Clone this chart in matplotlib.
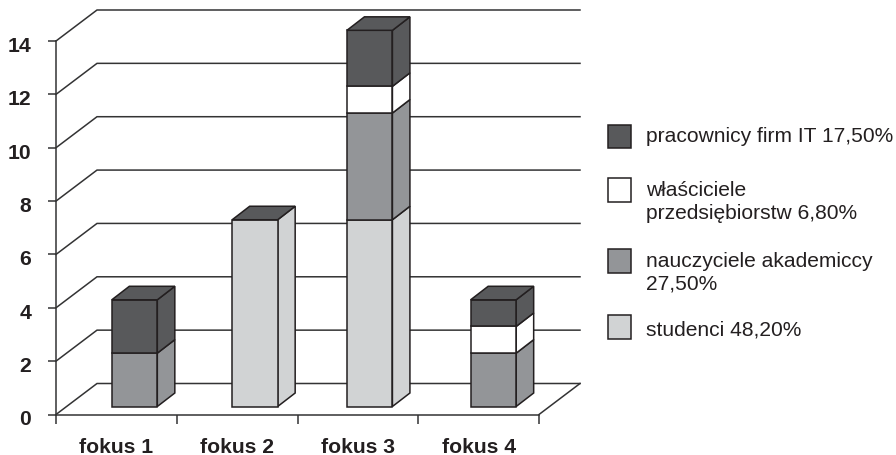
#!/usr/bin/env python3
"""Stacked pseudo-3D bars: focus group participants by professional group."""

import matplotlib
matplotlib.use("Agg")
import matplotlib.pyplot as plt
from matplotlib.patches import Polygon, Rectangle
from matplotlib.transforms import ScaledTranslation
import numpy as np

plt.rcParams['font.family'] = ['Liberation Sans', 'DejaVu Sans']

categories = ['fokus 1', 'fokus 2', 'fokus 3', 'fokus 4']
y_ticks = [0, 2, 4, 6, 8, 10, 12, 14]

studenci = [0, 7, 7, 0]
nauczyciele = [2, 0, 4, 2]
wlasciciele = [0, 0, 1, 1]
pracownicy = [2, 0, 2.1, 1]

legend_labels = ['pracownicy firm IT 17,50%',
                 'właściciele\nprzedsiębiorstw 6,80%',
                 'nauczyciele akademiccy\n27,50%',
                 'studenci 48,20%']

DARK = '#58595b'
MID = '#939598'
LIGHT = '#d1d3d4'
WHITE = '#ffffff'
EDGE = '#231f20'
WALL = '#333334'

W, H = 896, 456
# front plane of the plot box, in pixels
LEFT, RIGHT, BOTTOM, TOP = 56, 539, 415.5, 42
PX_X = (RIGHT - LEFT) / 4
PX_Y = (BOTTOM - TOP) / 14

# depth of the box and of the bars, converted to data units
wall_dx, wall_dy = 41 / PX_X, 31 / PX_Y
bar_dx, bar_dy = 17.5 / PX_X, 13.5 / PX_Y
bar_lift = 8 / PX_Y
bar_width = 45.5 / PX_X
# the bars do not sit at equal distances from the tick centres
bar_shift = np.array([18.2, 17.8, 11.8, 14.8]) / PX_X

fig = plt.figure(figsize=(W / 100, H / 100), dpi=100, facecolor='white')
ax = fig.add_axes([LEFT / W, 1 - BOTTOM / H, (RIGHT - LEFT) / W, (BOTTOM - TOP) / H])
ax.set_xlim(0.5, 4.5)
ax.set_ylim(0, 14)
ax.patch.set_visible(False)

for side in ['top', 'right']:
    ax.spines[side].set_visible(False)
for side in ['left', 'bottom']:
    ax.spines[side].set_linewidth(1.1)
    ax.spines[side].set_color(WALL)

# back wall lines and the floor edge
for v in y_ticks:
    ax.plot([0.5, 0.5 + wall_dx, 4.5 + wall_dx], [v, v + wall_dy, v + wall_dy],
            color=WALL, lw=1.1, clip_on=False, zorder=1, solid_joinstyle='miter')
ax.plot([4.5, 4.5 + wall_dx], [0, wall_dy], color=WALL, lw=1.1, clip_on=False, zorder=1)

xs = np.arange(1, 5)
ax.set_yticks(y_ticks)
ax.set_xticks(xs)
ax.set_xticklabels(categories)
ax.set_xticks(np.arange(0.5, 5), minor=True)
ax.tick_params(axis='y', length=6, width=1.1, color=WALL, pad=12, labelsize=15.2,
               labelcolor='#231f20')
ax.tick_params(axis='x', which='major', length=0, pad=16, labelsize=15.2, labelcolor='#231f20')
ax.tick_params(axis='x', which='minor', length=6.5, width=1.1, color=WALL)
for lab in ax.get_xticklabels() + ax.get_yticklabels():
    lab.set_fontweight('bold')

# y labels sit a little below their ticks
label_shift = ScaledTranslation(0, -2.5 / 100, fig.dpi_scale_trans)
for lab in ax.get_yticklabels():
    lab.set_transform(lab.get_transform() + label_shift)

# stacked bars: front from ax.bar, sides and top as parallelograms
series = [(studenci, LIGHT), (nauczyciele, MID), (wlasciciele, WHITE), (pracownicy, DARK)]
lefts = xs + bar_shift - bar_width / 2
base = np.zeros(4)
z = 3
for values, color in series:
    values = np.array(values, dtype=float)
    for i, h in enumerate(values):
        if h == 0:
            continue
        x1 = lefts[i] + bar_width
        y0 = base[i] + bar_lift
        ax.add_patch(Polygon([(x1, y0), (x1 + bar_dx, y0 + bar_dy),
                              (x1 + bar_dx, y0 + h + bar_dy), (x1, y0 + h)],
                             facecolor=color, edgecolor=EDGE, lw=1.1,
                             clip_on=False, zorder=z))
        ax.bar(lefts[i], h, width=bar_width, bottom=y0, align='edge', color=color,
               edgecolor=EDGE, lw=1.1, clip_on=False, zorder=z + 1)
    base += values
    z += 2

# top faces are dark on every bar
for i, total in enumerate(base):
    x0 = lefts[i]
    y1 = total + bar_lift
    ax.add_patch(Polygon([(x0, y1), (x0 + bar_width, y1),
                          (x0 + bar_width + bar_dx, y1 + bar_dy), (x0 + bar_dx, y1 + bar_dy)],
                         facecolor=DARK, edgecolor=EDGE, lw=1.1, clip_on=False, zorder=z))

# legend placed by hand in figure pixels
swatch_tops = [125.7, 179, 250.3, 316]
text_ys = [137, 202, 273, 330.5]
swatch_colors = [DARK, WHITE, MID, LIGHT]
for top, ty, color, label in zip(swatch_tops, text_ys, swatch_colors, legend_labels):
    fig.add_artist(Rectangle((608 / W, 1 - (top + 23.5) / H), 23 / W, 23.5 / H,
                             transform=fig.transFigure, facecolor=color,
                             edgecolor=EDGE, lw=1.1))
    fig.text(646 / W, 1 - ty / H, label, fontsize=15.1, color='#231f20',
             ha='left', va='center', linespacing=1.26)

fig.savefig('out.png', dpi=100)
